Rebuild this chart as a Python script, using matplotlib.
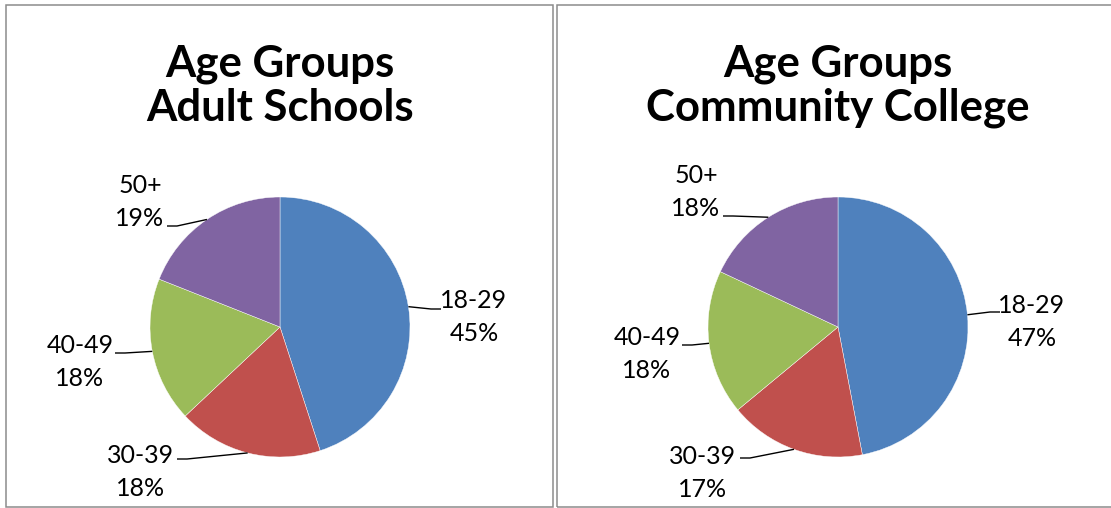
import matplotlib
matplotlib.use("Agg")
import matplotlib.pyplot as plt
from matplotlib.patches import Rectangle
import numpy as np

# ---- data -------------------------------------------------------------
age_groups = ["18-29", "30-39", "40-49", "50+"]
adult_schools_pct = [45, 18, 18, 19]
community_college_pct = [47, 17, 18, 18]
titles = [("Age Groups", "Adult Schools"), ("Age Groups", "Community College")]

colors = ["#4F81BD", "#C0504D", "#9BBB59", "#8064A2"]

# ---- layout (pixel units, y measured from the top) ---------------------
W, H = 1111, 508
DPI = 100

panels = [
    dict(box=(6, 5, 553, 507), center=(280, 327), radius=130,
         title_x=280,
         # label x, first-line baseline, leader start
         labels=[(474, 308, (441, 309)),
                 (141, 463, (177, 459)),
                 (80, 353, (115, 353)),
                 (140, 193, (167, 226))]),
    dict(box=(557, 5, 1125, 507), center=(838, 327), radius=130,
         title_x=838,
         labels=[(1032, 313, (1000, 312)),
                 (703, 464, (740, 458)),
                 (647, 345, (682, 345)),
                 (696, 183, (723, 216))]),
]
series = [adult_schools_pct, community_college_pct]


def px(x, y):
    return x, H - y


fig = plt.figure(figsize=(W / DPI, H / DPI), dpi=DPI)
ax = fig.add_axes([0, 0, 1, 1])

label_font = dict(family=["Lato", "DejaVu Sans"], size=18, color="black")
title_font = dict(family=["Lato", "DejaVu Sans"], size=31.5, weight="bold",
                  color="black")

for panel, values, (t1, t2) in zip(panels, series, titles):
    x0, y0, x1, y1 = panel["box"]
    bx, by = px(x0, y1)
    ax.add_patch(Rectangle((bx, by), x1 - x0, y1 - y0, fill=False,
                           edgecolor="#8c8c8c", linewidth=1.1, zorder=0))

    cx, cy = px(*panel["center"])
    r = panel["radius"]
    wedges, _ = ax.pie(values, colors=colors, startangle=90,
                       counterclock=False, center=(cx, cy), radius=r,
                       wedgeprops=dict(edgecolor="white", linewidth=0.3))

    ax.text(*px(panel["title_x"], 77), t1, ha="center", va="baseline",
            **title_font)
    ax.text(*px(panel["title_x"], 121), t2, ha="center", va="baseline",
            **title_font)

    for wedge, name, val, (lx, base, start) in zip(wedges, age_groups,
                                                   values, panel["labels"]):
        ax.text(*px(lx, base), name, ha="center", va="baseline", **label_font)
        ax.text(*px(lx, base + 33), f"{val}%", ha="center", va="baseline",
                **label_font)

        mid = np.deg2rad((wedge.theta1 + wedge.theta2) / 2)
        ex, ey = cx + r * np.cos(mid), cy + r * np.sin(mid)
        sx, sy = px(*start)
        step = 10 if ex > sx else -10
        ax.plot([sx, sx + step, ex], [sy, sy, ey], color="black",
                linewidth=1.0, solid_capstyle="butt", zorder=3)

ax.set_xlim(0, W)
ax.set_ylim(0, H)
ax.set_aspect("auto")
ax.axis("off")

fig.savefig("out.png", dpi=DPI, facecolor="white")
